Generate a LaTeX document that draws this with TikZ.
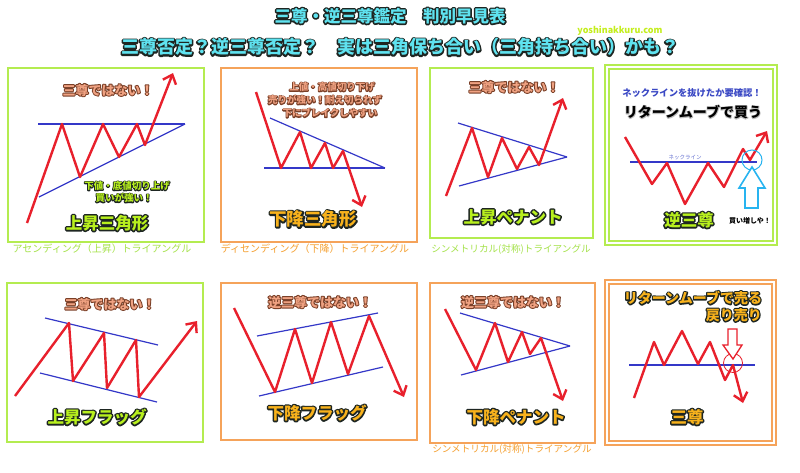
\documentclass[tikz,border=0pt]{standalone}
\usepackage{fontspec}
\setmainfont{Noto Sans CJK JP}
\usetikzlibrary{arrows.meta}

\definecolor{framegreen}{HTML}{B4EC50}
\definecolor{frameorange}{HTML}{F5A35A}
\definecolor{captgreen}{HTML}{A5E24A}
\definecolor{captorange}{HTML}{F5A030}
\definecolor{chartred}{HTML}{E8202C}
\definecolor{lineblue}{HTML}{3438C8}
\definecolor{titlecyan}{HTML}{5FE3F0}
\definecolor{titlegreen}{HTML}{B8F01E}
\definecolor{titleorange}{HTML}{F8B21C}
\definecolor{notesalmon}{HTML}{F0A282}
\definecolor{notebrown}{HTML}{7A4028}
\definecolor{darkline}{HTML}{1E2622}
\definecolor{urlgreen}{HTML}{C4EE1C}
\definecolor{arrowcyan}{HTML}{28B4F0}
\definecolor{neckblue}{HTML}{3A48C4}

% outlined lettering: a stroked copy under the filled one
\newcommand{\outlined}[4][2.6]{\leavevmode\rlap{\color{#3}\special{pdf:literal direct 1 Tr #1 w 1 j}#4\special{pdf:literal direct 0 Tr}}{\color{#2}#4}}

\tikzstyle{frame}=[line width=2pt]
\tikzstyle{price}=[chartred, line width=2.4pt, line join=round]
\tikzstyle{breakout}=[price, -{Straight Barb[length=8pt,width=14pt]}]
\tikzstyle{trend}=[lineblue, line width=1.2pt]
\tikzstyle{headline}=[inner sep=0pt, font=\bfseries\fontsize{18}{18}\selectfont]
\tikzstyle{patname}=[inner sep=0pt, font=\bfseries\fontsize{16.5}{16.5}\selectfont]
\tikzstyle{remark}=[inner sep=0pt, font=\bfseries\fontsize{13}{13}\selectfont]
\tikzstyle{memo}=[inner sep=0pt, font=\bfseries\fontsize{9.5}{9.5}\selectfont]
\tikzstyle{caption}=[inner sep=0pt, font=\fontsize{10}{10}\selectfont]

\begin{document}
\begin{tikzpicture}[x=1pt,y=-1pt]
\useasboundingbox (0,0) rectangle (800,472);
\fill[white] (0,0) rectangle (800,472);

% headings
\node[headline, font=\bfseries\fontsize{16.5}{16.5}\selectfont] (title) at (390,16) {\outlined[3]{titlecyan}{darkline}{三尊・逆三尊鑑定　判別早見表}};
\node[inner sep=0pt, font=\bfseries\fontsize{9}{9}\selectfont, urlgreen] (url) at (620,31) {yoshinakkuru.com};
\node[headline] (subtitle) at (400,47) {\outlined[3]{titlecyan}{darkline}{三尊否定？逆三尊否定？　実は三角保ち合い（三角持ち合い）かも？}};

% frames
\draw[frame, framegreen] (8,68) rectangle (204,242);
\draw[frame, frameorange] (221,68) rectangle (417,242);
\draw[frame, framegreen] (430,68) rectangle (593,238);
\draw[frame, framegreen] (605,65) rectangle (777,245);
\draw[frame, framegreen] (609,69) rectangle (773,241);
\draw[frame, framegreen] (7,283) rectangle (203,442);
\draw[frame, frameorange] (221,283) rectangle (417,440);
\draw[frame, frameorange] (430,283) rectangle (595,443);
\draw[frame, frameorange] (605,280) rectangle (776,445);
\draw[frame, frameorange] (609,284) rectangle (772,441);

\node[caption, captgreen] (cap1) at (102,249) {アセンディング（上昇）トライアングル};
\node[caption, captorange] (cap2) at (315,249) {ディセンディング（下降）トライアングル};
\node[caption, captgreen, font=\fontsize{9.6}{9.6}\selectfont] (cap3) at (511,249) {シンメトリカル(対称)トライアングル};
\node[caption, captorange, font=\fontsize{9.6}{9.6}\selectfont] (cap7) at (512,449) {シンメトリカル(対称)トライアングル};

% ascending triangle
\draw[trend] (38,124) -- (185,124);
\draw[trend] (39,197) -- (185,124);
\draw[breakout] (27,223) -- (62,124) -- (80,177) -- (103,124) -- (119,157) -- (137,124) -- (145,145) -- (173,73);
\node[remark] (no1) at (108,90) {\outlined[2]{notesalmon}{notebrown}{三尊ではない！}};
\node[memo] (memo1a) at (127,186) {\outlined[1.8]{titlegreen}{darkline}{下値・底値切り上げ}};
\node[memo] (memo1b) at (124,198) {\outlined[1.8]{titlegreen}{darkline}{買いが強い！}};
\node[patname] (name1) at (107,223) {\outlined[3]{titlegreen}{darkline}{上昇三角形}};

% descending triangle
\draw[trend] (270,118) -- (385,168);
\draw[trend] (264,168) -- (385,168);
\draw[breakout] (256,92) -- (281,168) -- (300,132) -- (311,168) -- (325,143) -- (333,168) -- (343,151) -- (362,207);
\node[memo] (memo2a) at (332,87) {\outlined[1.8]{notesalmon}{notebrown}{上値・高値切り下げ}};
\node[memo] (memo2b) at (325,100) {\outlined[1.8]{notesalmon}{notebrown}{売りが強い！耐え切られず}};
\node[memo] (memo2c) at (330,113) {\outlined[1.8]{notesalmon}{notebrown}{下にブレイクしやすい}};
\node[patname, font=\bfseries\fontsize{17.5}{17.5}\selectfont] (name2) at (313,219) {\outlined[3]{titleorange}{darkline}{下降三角形}};

% bullish pennant
\draw[trend] (458,123) -- (567,157);
\draw[trend] (459,186) -- (567,157);
\draw[breakout] (446,196) -- (472,128) -- (488,177) -- (502,138) -- (517,169) -- (529,147) -- (539,165) -- (563,98);
\node[remark] (no3) at (514,87) {\outlined[2]{notesalmon}{notebrown}{三尊ではない！}};
\node[patname] (name3) at (513,217) {\outlined[3]{titlegreen}{darkline}{上昇ペナント}};

% inverse head and shoulders
\node[memo, font=\bfseries\fontsize{9.3}{9.3}\selectfont, neckblue] (check) at (692,93) {ネックラインを抜けたか要確認！};
\node[headline, font=\bfseries\fontsize{14}{14}\selectfont] (buy) at (693,112) {\outlined[1.6]{black}{gray!50}{リターンムーブで買う}};
\draw[trend] (630,162) -- (757,162);
\node[inner sep=0pt, font=\fontsize{5.5}{5.5}\selectfont, neckblue!80] (neck) at (685,157) {ネックライン};
\draw[breakout] (625,137) -- (652,184) -- (667,163) -- (685,204) -- (708,163) -- (724,187) -- (743,149) -- (750,160) -- (767,131);
\draw[arrowcyan, line width=1pt] (752,160) circle (10);
\draw[arrowcyan, line width=1.6pt, fill=white, line join=miter] (752,167) -- (765,188) -- (758,188) -- (758,208) -- (745,208) -- (745,188) -- (739,188) -- cycle;
\node[inner sep=0pt, font=\bfseries\fontsize{7}{7}\selectfont] (more) at (750,221) {買い増しや！};
\node[patname] (name4) at (689,220) {\outlined[3]{titlegreen}{darkline}{逆三尊}};

% bull flag
\draw[trend] (45,318) -- (158,345);
\draw[trend] (40,373) -- (157,402);
\draw[breakout] (15,396) -- (69,323) -- (73,381) -- (104,333) -- (107,388) -- (136,340) -- (139,397) -- (197,321);
\node[remark] (no5) at (110,304) {\outlined[2]{notesalmon}{notebrown}{三尊ではない！}};
\node[patname] (name5) at (97,417) {\outlined[3]{titlegreen}{darkline}{上昇フラッグ}};

% bear flag
\draw[trend] (257,336) -- (378,313);
\draw[trend] (259,396) -- (383,367);
\draw[breakout] (234,308) -- (275,392) -- (295,329) -- (312,383) -- (331,322) -- (348,374) -- (369,316) -- (404,397);
\node[remark] (no6) at (320,302) {\outlined[2]{notesalmon}{notebrown}{逆三尊ではない！}};
\node[patname] (name6) at (317,413) {\outlined[3]{titleorange}{darkline}{下降フラッグ}};

% bearish pennant
\draw[trend] (460,313) -- (570,346);
\draw[trend] (461,375) -- (570,346);
\draw[breakout] (445,309) -- (476,370) -- (495,323) -- (508,362) -- (522,332) -- (530,354) -- (541,338) -- (563,401);
\node[remark] (no7) at (513,302) {\outlined[2]{notesalmon}{notebrown}{逆三尊ではない！}};
\node[patname] (name7) at (516,417) {\outlined[3]{titleorange}{darkline}{下降ペナント}};

% head and shoulders
\node[headline, font=\bfseries\fontsize{14}{14}\selectfont] (sell) at (693,298) {\outlined[2.6]{titleorange}{darkline}{リターンムーブで売る}};
\node[headline, font=\bfseries\fontsize{14}{14}\selectfont, anchor=east] (resell) at (762,315) {\outlined[2.6]{titleorange}{darkline}{戻り売り}};
\draw[trend] (629,365) -- (755,365);
\draw[breakout] (634,398) -- (654,342) -- (664,365) -- (682,331) -- (698,364) -- (710,342) -- (725,380) -- (733,365) -- (743,403);
\draw[chartred, line width=0.8pt] (733,363) circle (9.5);
\draw[chartred, line width=1.3pt, fill=white, line join=miter] (728,329) -- (737,329) -- (737,345) -- (742,345) -- (733,359) -- (723,345) -- (728,345) -- cycle;
\node[patname] (name8) at (687,417) {\outlined[3]{titleorange}{darkline}{三尊}};
\end{tikzpicture}
\end{document}
